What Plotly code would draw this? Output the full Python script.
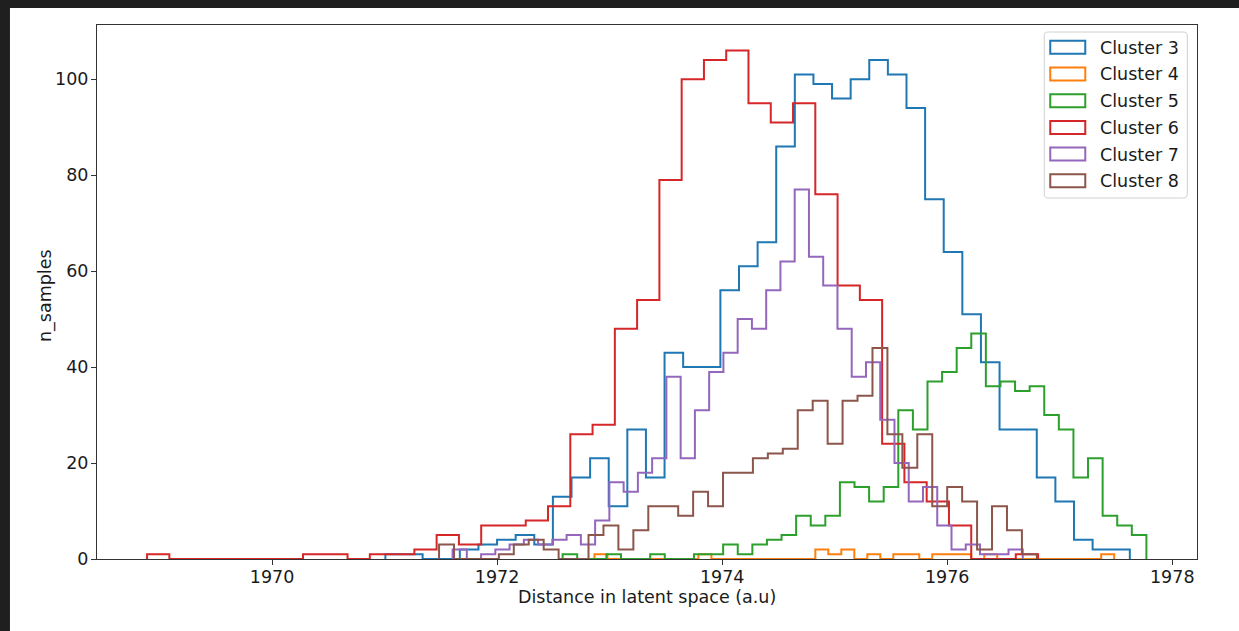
import numpy as np
import plotly.graph_objects as go

# ---------------- data ----------------
cluster_names = ["Cluster 3", "Cluster 4", "Cluster 5", "Cluster 6", "Cluster 7", "Cluster 8"]
colors = ["#1f77b4", "#ff7f0e", "#2ca02c", "#d62728", "#9467bd", "#8c564b"]

# left edge of first bin and bin width (axis units) for each cluster's histogram
bin_start = [1971.007, 1972.865, 1972.582, 1968.889, 1971.604, 1971.484]
bin_width = [0.1654, 0.11547, 0.12971, 0.19796, 0.12669, 0.13282]

counts_c3 = [1, 1, 0, 0, 2, 3, 4, 5, 3, 13, 17, 21, 11, 27, 17, 43, 40, 40, 56, 61,
             66, 86, 101, 99, 96, 100, 104, 101, 94, 75, 64, 51, 41, 27, 27, 17, 12, 4, 2, 2]
counts_c4 = [1, 0, 0, 0, 0, 0, 0, 0, 1, 0, 0, 0, 0, 0, 0, 0, 0, 2, 1, 2,
             0, 1, 0, 1, 1, 0, 1, 1, 1, 0, 1, 0, 0, 0, 0, 0, 0, 0, 0, 1]
counts_c5 = [1, 0, 0, 1, 0, 0, 1, 0, 0, 1, 1, 3, 1, 3, 4, 5, 9, 7, 9, 16,
             15, 12, 15, 31, 27, 37, 39, 44, 47, 36, 37, 35, 36, 30, 27, 17, 21, 9, 7, 5]
counts_c6 = [1, 0, 0, 0, 0, 0, 0, 1, 1, 0, 1, 1, 2, 5, 3, 7, 7, 8, 11, 26,
             28, 48, 54, 79, 100, 104, 106, 95, 91, 95, 76, 57, 54, 24, 16, 12, 7, 0, 0, 1]
counts_c7 = [2, 0, 1, 2, 3, 4, 3, 4, 5, 3, 8, 16, 14, 18, 21, 38, 21, 31, 39, 43,
             50, 48, 56, 62, 77, 63, 57, 48, 38, 41, 29, 20, 12, 15, 7, 2, 3, 1, 1, 2]
counts_c8 = [3, 0, 0, 0, 1, 3, 4, 2, 0, 0, 5, 7, 2, 6, 11, 11, 9, 14, 11, 18,
             18, 21, 22, 23, 31, 33, 24, 33, 34, 44, 26, 19, 26, 11, 15, 12, 2, 11, 6, 1]
all_counts = [counts_c3, counts_c4, counts_c5, counts_c6, counts_c7, counts_c8]

x_ticks = [1970, 1972, 1974, 1976, 1978]
y_ticks = [0, 20, 40, 60, 80, 100]
x_title = "Distance in latent space (a.u)"
y_title = "n_samples"

# ---------------- layout geometry (pixels) ----------------
W, H = 1239, 631
L, R, T, B = 97, 1196.7, 25, 559
pw, ph = R - L, B - T


def px2x(p):
    return (p - L) / pw


def py2y(p):
    return (B - p) / ph


FONT = "DejaVu Sans"
FS = 17.5
TXT = "#1a1a1a"

fig = go.Figure()

for name, col, s, w, c in zip(cluster_names, colors, bin_start, bin_width, all_counts):
    edges = s + w * np.arange(len(c) + 1)
    xs = [edges[0]] + list(edges[:-1]) + [edges[-1]]
    ys = [0] + list(c) + [0]
    fig.add_trace(go.Scatter(x=xs, y=ys, mode="lines", name=name,
                             line=dict(color=col, width=2, shape="hv"),
                             showlegend=False, hoverinfo="skip"))

shapes = []
# white figure area on dark page
shapes.append(dict(type="rect", xref="paper", yref="paper", layer="below",
                   x0=px2x(10), x1=px2x(W + 5), y0=py2y(8), y1=py2y(H + 5),
                   fillcolor="white", line=dict(width=0)))

# legend box (rounded)
lx0, lx1, ly0, ly1 = 1044, 1187, 32, 198
r = 4
rx, ry = r / pw, r / ph
X0, X1, Y0, Y1 = px2x(lx0), px2x(lx1), py2y(ly1), py2y(ly0)
path = (f"M {X0+rx},{Y1} L {X1-rx},{Y1} Q {X1},{Y1} {X1},{Y1-ry} "
        f"L {X1},{Y0+ry} Q {X1},{Y0} {X1-rx},{Y0} L {X0+rx},{Y0} "
        f"Q {X0},{Y0} {X0},{Y0+ry} L {X0},{Y1-ry} Q {X0},{Y1} {X0+rx},{Y1} Z")
shapes.append(dict(type="path", xref="paper", yref="paper", path=path,
                   fillcolor="rgba(255,255,255,0.8)", line=dict(color="#d0d0d0", width=1)))

annotations = []
for i, (name, col) in enumerate(zip(cluster_names, colors)):
    cy = 47.3 + 26.7 * i
    shapes.append(dict(type="rect", xref="paper", yref="paper",
                       x0=px2x(1050), x1=px2x(1085), y0=py2y(cy + 6.5), y1=py2y(cy - 6.5),
                       fillcolor="rgba(0,0,0,0)", line=dict(color=col, width=2)))
    annotations.append(dict(text=name, xref="paper", yref="paper", x=px2x(1098), y=py2y(cy + 0.5),
                            xanchor="left", yanchor="middle", showarrow=False,
                            font=dict(family=FONT, size=FS, color=TXT)))

annotations.append(dict(text=x_title, xref="paper", yref="paper", x=0.5, y=py2y(597),
                        xanchor="center", yanchor="middle", showarrow=False,
                        font=dict(family=FONT, size=FS, color=TXT)))
annotations.append(dict(text=y_title, xref="paper", yref="paper", x=px2x(45), y=py2y(295),
                        xanchor="center", yanchor="middle", showarrow=False, textangle=-90,
                        font=dict(family=FONT, size=FS, color=TXT)))

axis_common = dict(showgrid=False, zeroline=False, showline=True, mirror=True,
                   linecolor="#333333", linewidth=1, ticks="outside", ticklen=5,
                   tickcolor="#333333", tickwidth=1,
                   tickfont=dict(family=FONT, size=FS, color=TXT))

fig.update_layout(
    width=W, height=H, autosize=False,
    margin=dict(l=L, r=W - R, t=T, b=H - B, pad=0),
    paper_bgcolor="#1f1f1f", plot_bgcolor="white",
    xaxis=dict(range=[1968.444, 1978.22], tickvals=x_ticks, ticklabelstandoff=-3, **axis_common),
    yaxis=dict(range=[0, 111.3], tickvals=y_ticks, ticklabelstandoff=-1, **axis_common),
    shapes=shapes, annotations=annotations, showlegend=False,
)

fig.write_html("out.html", config={"displayModeBar": False},
               post_script="document.body.style.margin='0';document.body.style.overflow='hidden';")
